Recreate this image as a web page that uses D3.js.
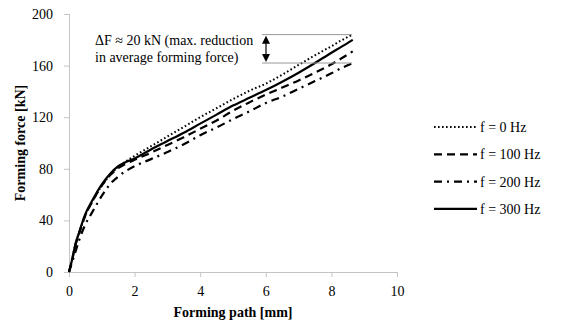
<!DOCTYPE html>
<html>
<head>
<meta charset="utf-8">
<script src="https://cdn.jsdelivr.net/npm/d3@7"></script>
</head>
<body style="margin:0">
<svg width="562" height="323"></svg>
<script>
// forming path [mm]
var path = [0, 0.1, 0.2, 0.3, 0.4, 0.5, 0.7, 1, 1.25, 1.5, 1.75, 2, 2.5, 3, 3.5, 4, 4.5, 5, 5.5, 6, 6.5, 7, 7.5, 8, 8.3, 8.65];

// forming force [kN] for each frequency
var f0 =   [0, 11, 22, 30, 37, 44, 54, 67, 75, 81.5, 86, 90, 97.5, 105, 112.5, 120, 127, 134, 140.5, 146, 153, 160.5, 168, 175, 179.5, 184];
var f100 = [0, 10, 21, 29, 37, 44, 54, 67, 75, 80.5, 84, 87, 92.5, 98.5, 104.5, 111, 117.5, 125, 131.5, 137.5, 143, 148.5, 154.5, 161, 165.5, 171];
var f200 = [0, 8, 16, 24, 31, 37, 46, 59, 68, 74, 78.5, 82, 87.5, 93, 99, 106, 112, 118.5, 124.5, 131, 136, 142, 148, 154, 158, 162];
var f300 = [0, 10, 22, 30, 38, 45, 55, 68, 76, 82, 85.5, 88, 95, 101.5, 108, 115, 122, 129, 135, 141, 147.5, 154.5, 162, 170, 174.5, 180];

var seriesNames = ["f = 0 Hz", "f = 100 Hz", "f = 200 Hz", "f = 300 Hz"];
var seriesValues = [f0, f100, f200, f300];
var dashes = ["1.6,2.4", "8,5", "8,5,2,5", null];

var xTicks = [0, 2, 4, 6, 8, 10];
var yTicks = [0, 40, 80, 120, 160, 200];

var fontName = "Liberation Serif";

var svg = d3.select("svg");

var x = d3.scaleLinear().domain([0, 10]).range([69, 397]);
var y = d3.scaleLinear().domain([0, 200]).range([272, 14]);

var axisColor = "#c4c4c4";

// y axis
var yAxis = svg.append("g")
    .attr("transform", "translate(69,0)")
    .call(d3.axisLeft(y).tickValues(yTicks).tickSize(5).tickPadding(11));
yAxis.select(".domain").attr("stroke", axisColor).attr("d", "M0.5," + y(200) + "V" + y(0));
yAxis.selectAll(".tick line").attr("stroke", axisColor);

// x axis
var xAxis = svg.append("g")
    .attr("transform", "translate(0,272)")
    .call(d3.axisBottom(x).tickValues(xTicks).tickSize(5).tickPadding(9));
xAxis.select(".domain").attr("stroke", axisColor).attr("d", "M" + x(0) + ",0.5H" + x(10));
xAxis.selectAll(".tick line").attr("stroke", axisColor);

// axis titles
svg.append("text")
    .attr("x", 233).attr("y", 317)
    .attr("text-anchor", "middle")
    .attr("font-weight", "bold")
    .text("Forming path [mm]");

svg.append("text")
    .attr("transform", "translate(25,143) rotate(-90)")
    .attr("text-anchor", "middle")
    .attr("font-weight", "bold")
    .text("Forming force [kN]");

// curves
var line = d3.line()
    .x(function (d) { return x(d[0]); })
    .y(function (d) { return y(d[1]); })
    .curve(d3.curveMonotoneX);

seriesValues.forEach(function (vals, i) {
    var pts = path.map(function (p, j) { return [p, vals[j]]; });
    svg.append("path")
        .datum(pts)
        .attr("fill", "none")
        .attr("stroke", "#000")
        .attr("stroke-width", i == 0 ? 2 : 2.2)
        .attr("stroke-dasharray", dashes[i])
        .attr("d", line);
});

// annotation: max reduction
var annTop = 184, annBottom = 162;
svg.append("line").attr("x1", 262).attr("x2", 352)
    .attr("y1", y(annTop)).attr("y2", y(annTop))
    .attr("stroke", "#999").attr("stroke-width", 1);
svg.append("line").attr("x1", 262).attr("x2", 352)
    .attr("y1", y(annBottom)).attr("y2", y(annBottom))
    .attr("stroke", "#999").attr("stroke-width", 1);

var ax = 266;
svg.append("line").attr("x1", ax).attr("x2", ax)
    .attr("y1", y(annTop) + 4).attr("y2", y(annBottom) - 4)
    .attr("stroke", "#000").attr("stroke-width", 1.2);
svg.append("path")
    .attr("d", "M" + ax + "," + (y(annTop) + 1) + "l-4,8h8z")
    .attr("fill", "#000");
svg.append("path")
    .attr("d", "M" + ax + "," + (y(annBottom) - 1) + "l-4,-8h8z")
    .attr("fill", "#000");

svg.append("text").attr("x", 95).attr("y", 45)
    .text("\u0394F \u2248 20 kN (max. reduction");
svg.append("text").attr("x", 95).attr("y", 62)
    .text("in average forming force)");

// legend
var legend = svg.append("g");
seriesNames.forEach(function (name, i) {
    var ly = 127 + i * 27.3;
    legend.append("line")
        .attr("x1", 434).attr("x2", 477)
        .attr("y1", ly).attr("y2", ly)
        .attr("stroke", "#000")
        .attr("stroke-width", i == 0 ? 2 : 2.2)
        .attr("stroke-dasharray", dashes[i]);
    legend.append("text")
        .attr("x", 480).attr("y", ly + 5)
        .text(name);
});

// one font for every text, set last so nothing overrides it
svg.selectAll("text")
    .attr("fill", "#000")
    .attr("font-family", fontName)
    .attr("font-size", 14)
    .style("font-family", fontName, "important")
    .style("font-size", "14px");
</script>
</body>
</html>
